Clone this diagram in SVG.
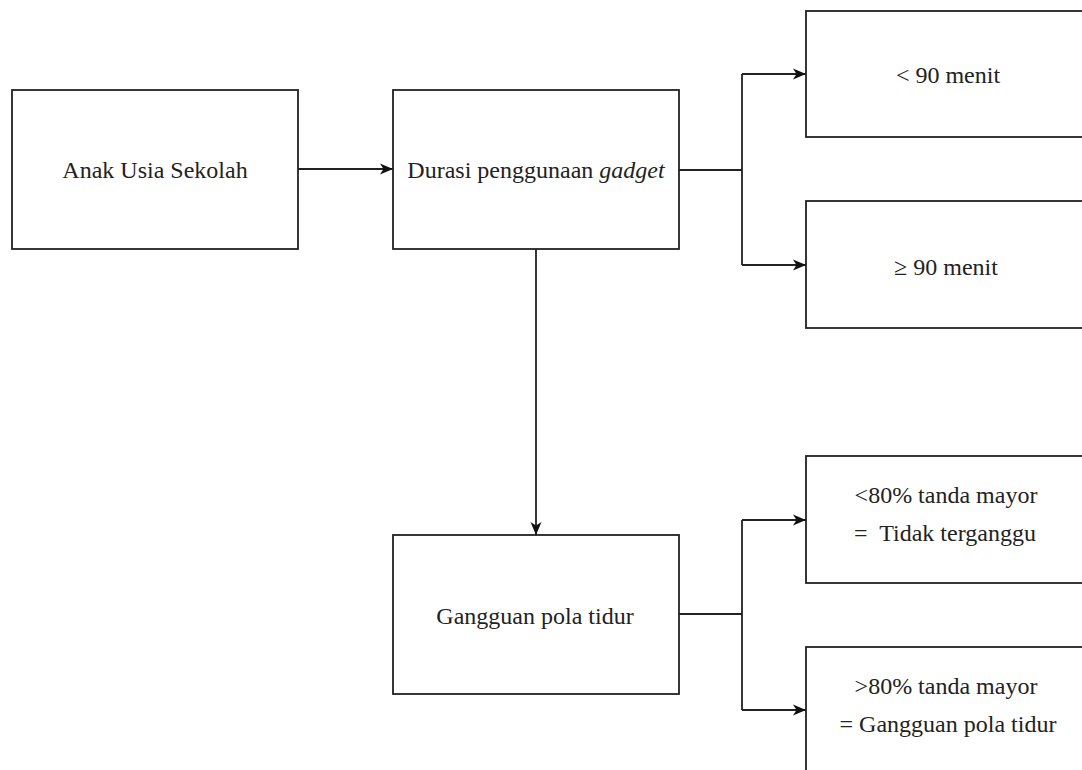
<svg xmlns="http://www.w3.org/2000/svg" width="1082" height="770" viewBox="0 0 1082 770">
<style>
.box{fill:#fff;stroke:#222;stroke-width:1.8}
.t{font-family:'Liberation Serif', 'Times New Roman', 'DejaVu Serif', serif;font-size:24px;fill:#222;text-anchor:middle;dominant-baseline:central}
.c{fill:none;stroke:#222;stroke-width:1.8}
</style>
<defs>
<marker id="ah" viewBox="0 0 13 12" refX="13" refY="6" markerWidth="13" markerHeight="12" markerUnits="userSpaceOnUse" orient="auto">
<path d="M0,0.5 L13,6 L0,11.5 L3.5,6 Z" fill="#111"/>
</marker>
</defs>
<rect width="1082" height="770" fill="#fff"/>
<g id="n1"><rect class="box" x="12" y="90" width="286" height="159"/><text class="t" x="155" y="170">Anak Usia Sekolah</text></g>
<g id="n2"><rect class="box" x="393" y="90" width="286" height="159"/><text class="t" x="536" y="170">Durasi penggunaan <tspan font-style="italic">gadget</tspan></text></g>
<g id="n3"><rect class="box" x="806" y="11" width="286" height="126"/><text class="t" x="948" y="75">&lt; 90 menit</text></g>
<g id="n4"><rect class="box" x="806" y="201" width="286" height="127"/><text class="t" x="946" y="267">≥ 90 menit</text></g>
<g id="n5"><rect class="box" x="393" y="535" width="286" height="159"/><text class="t" x="535" y="616">Gangguan pola tidur</text></g>
<g id="n6"><rect class="box" x="806" y="456" width="286" height="127"/><text class="t" x="946" y="495">&lt;80% tanda mayor</text><text class="t" x="945" y="533" xml:space="preserve">=  Tidak terganggu</text></g>
<g id="n7"><rect class="box" x="806" y="647" width="286" height="140"/><text class="t" x="946" y="686">&gt;80% tanda mayor</text><text class="t" x="948" y="724">= Gangguan pola tidur</text></g>
<g id="connectors">
<path class="c" d="M298,169 H393" marker-end="url(#ah)"/>
<path class="c" d="M679,170 H742"/>
<path class="c" d="M742,74 V265"/>
<path class="c" d="M742,74 H806" marker-end="url(#ah)"/>
<path class="c" d="M742,265 H806" marker-end="url(#ah)"/>
<path class="c" d="M536,249 V535" marker-end="url(#ah)"/>
<path class="c" d="M679,614 H742"/>
<path class="c" d="M742,520 V710"/>
<path class="c" d="M742,520 H806" marker-end="url(#ah)"/>
<path class="c" d="M742,710 H806" marker-end="url(#ah)"/>
</g>
</svg>
